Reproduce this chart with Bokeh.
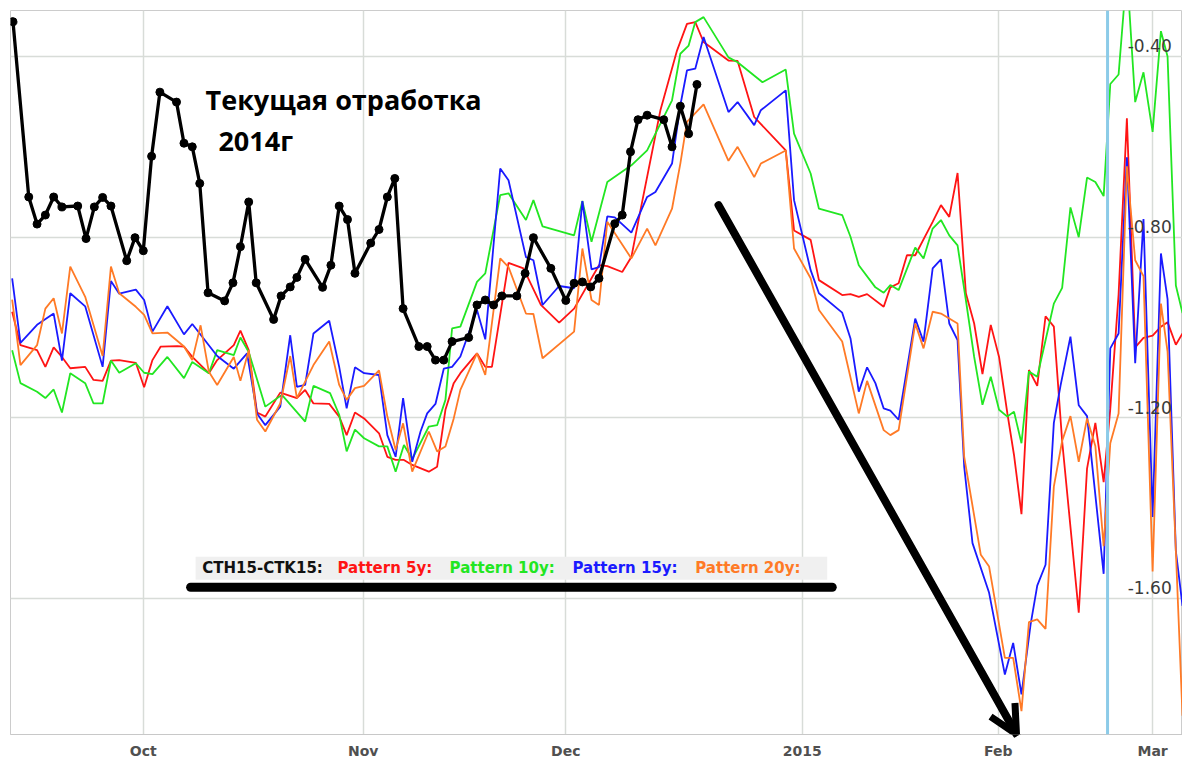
from bokeh.plotting import figure
from bokeh.models import Range1d, FixedTicker, Label, Arrow, OpenHead, Span, BoxAnnotation
from bokeh.core.properties import value
from bokeh.embed import file_html
from bokeh.resources import INLINE

# ---- axis definitions (x = session index) ----
month_pos = [16.0, 42.5, 66.9, 95.4, 119.0, 137.6]
month_labels = ["Oct", "Nov", "Dec", "2015", "Feb", "Mar"]
ytick_vals = [-0.40, -0.80, -1.20, -1.60]
ytick_labels = ["-0.40", "-0.80", "-1.20", "-1.60"]

# ---- current 2014 spread CTH15-CTK15 (black) ----
cur_x = [0.3, 2.2, 3.2, 4.2, 5.2, 6.2, 8.1, 9.1, 10.1, 11.1, 12.1, 14.0, 15.0, 16.0, 17.0, 18.0,
         20.0, 20.9, 21.9, 22.8, 23.8, 25.8, 26.8, 27.7, 28.7, 29.6, 31.7, 32.6, 33.7, 34.5, 35.5,
         37.6, 38.6, 39.6, 40.6, 41.5, 43.4, 44.4, 45.4, 46.3, 47.3, 49.2, 50.2, 51.2, 52.2, 53.2,
         55.2, 56.2, 57.2, 58.2, 59.2, 61.0, 62.0, 63.0, 65.1, 66.9, 67.9, 68.9, 69.9, 70.9,
         72.8, 73.7, 74.7, 75.6, 76.7, 78.7, 79.7, 80.7, 81.7, 82.7]
cur_y = [-0.323, -0.711, -0.771, -0.751, -0.711, -0.733, -0.731, -0.803, -0.733, -0.712, -0.731,
         -0.852, -0.801, -0.830, -0.621, -0.479, -0.501, -0.592, -0.600, -0.681, -0.923, -0.941,
         -0.901, -0.821, -0.722, -0.901, -0.982, -0.930, -0.910, -0.889, -0.849, -0.911, -0.862,
         -0.731, -0.761, -0.880, -0.813, -0.783, -0.711, -0.670, -0.958, -1.042, -1.042, -1.072,
         -1.072, -1.031, -1.022, -0.950, -0.939, -0.950, -0.930, -0.930, -0.880, -0.801, -0.869,
         -0.940, -0.902, -0.899, -0.910, -0.891, -0.770, -0.751, -0.611, -0.540, -0.530, -0.540,
         -0.600, -0.510, -0.571, -0.462]

# ---- Pattern 5y (red) ----
p5_x = [0.2, 1.2, 3.2, 4.2, 5.2, 6.2, 7.2, 9.0, 10.0, 11.1, 12.1, 13.1, 15.1, 16.1, 17.1, 18.1,
        20.1, 20.9, 21.9, 23.9, 24.9, 26.9, 27.7, 28.7, 29.7, 30.7, 32.5, 34.5, 35.5, 36.5, 38.4,
        39.6, 40.5, 41.5, 42.6, 44.4, 45.4, 46.4, 47.4, 48.4, 50.4, 51.4, 52.4, 53.4, 54.2, 56.2,
        57.2, 58.0, 60.0, 61.8, 63.9, 66.1, 67.9, 70.9, 71.9, 73.7, 74.8, 75.9, 78.3, 80.3, 81.5,
        82.5, 83.5, 86.5, 87.6, 89.6, 93.4, 94.4, 96.4, 97.4, 100.2, 101.2, 102.2, 103.2, 105.2,
        106.0, 107.0, 108.0, 109.0, 111.1, 112.1, 113.1, 114.1, 115.1, 116.1, 117.1, 118.1, 119.1,
        120.1, 120.9, 121.8, 122.7, 123.7, 124.7, 125.7, 126.7, 128.7, 129.7, 130.7, 131.7, 132.5,
        133.5, 134.5, 135.5, 136.5, 137.6, 138.6, 139.4, 140.4, 141.2]
p5_y = [-0.965, -1.039, -1.050, -1.087, -1.044, -1.065, -1.090, -1.087, -1.116, -1.118, -1.073,
        -1.072, -1.078, -1.132, -1.072, -1.042, -1.041, -1.042, -1.065, -1.101, -1.072, -1.039,
        -1.007, -1.050, -1.188, -1.197, -1.144, -1.156, -1.138, -1.168, -1.169, -1.197, -1.238,
        -1.188, -1.201, -1.234, -1.286, -1.293, -1.293, -1.304, -1.319, -1.308, -1.182, -1.123,
        -1.101, -1.057, -1.087, -1.087, -0.857, -0.869, -0.950, -0.989, -0.958, -0.862, -0.864,
        -0.877, -0.844, -0.740, -0.519, -0.387, -0.328, -0.324, -0.368, -0.409, -0.410, -0.534,
        -0.608, -0.785, -0.806, -0.895, -0.928, -0.926, -0.932, -0.926, -0.954, -0.911, -0.902,
        -0.840, -0.840, -0.766, -0.729, -0.755, -0.658, -0.924, -0.991, -1.103, -0.994, -1.065,
        -1.190, -1.282, -1.413, -1.094, -1.129, -0.975, -0.998, -1.251, -1.631, -1.312, -1.211,
        -1.342, -1.180, -0.927, -0.537, -1.044, -1.023, -1.018, -0.998, -0.988, -1.038, -1.013]

# ---- Pattern 10y (green) ----
p10_x = [0.2, 1.2, 3.2, 4.2, 5.2, 6.2, 7.2, 9.0, 10.0, 11.1, 12.1, 13.1, 15.1, 16.1, 17.1, 18.9,
         20.9, 21.9, 23.9, 24.9, 26.9, 27.7, 28.7, 30.7, 32.7, 35.5, 36.5, 38.5, 39.6, 40.5, 41.5,
         42.6, 44.4, 45.4, 46.4, 47.4, 48.4, 50.4, 51.4, 52.4, 53.2, 54.2, 56.2, 57.2, 59.0, 60.0,
         62.1, 63.0, 64.1, 67.9, 68.9, 70.0, 71.9, 74.8, 76.7, 79.7, 80.7, 81.7, 82.5, 83.5, 86.5,
         87.6, 90.6, 93.4, 94.4, 96.4, 97.4, 100.2, 101.2, 102.2, 104.2, 105.2, 106.0, 107.0,
         109.0, 110.0, 111.1, 112.1, 113.1, 114.1, 115.1, 116.1, 117.1, 118.1, 119.1, 120.1, 120.9,
         121.8, 122.7, 123.7, 124.7, 125.7, 126.7, 127.7, 128.7, 129.7, 130.7, 131.7, 132.5, 133.5,
         134.5, 135.5, 136.5, 137.6, 138.6, 139.4, 140.4, 141.2]
p10_y = [-1.050, -1.123, -1.142, -1.156, -1.137, -1.188, -1.101, -1.123, -1.168, -1.168, -1.073,
         -1.100, -1.079, -1.100, -1.103, -1.065, -1.112, -1.076, -1.101, -1.050, -1.061, -1.022,
         -1.054, -1.175, -1.149, -1.208, -1.129, -1.145, -1.193, -1.274, -1.226, -1.245, -1.263,
         -1.263, -1.319, -1.260, -1.291, -1.219, -1.216, -1.160, -1.002, -0.998, -0.899, -0.880,
         -0.707, -0.703, -0.762, -0.718, -0.776, -0.796, -0.720, -0.810, -0.678, -0.641, -0.608,
         -0.497, -0.394, -0.376, -0.324, -0.313, -0.402, -0.413, -0.457, -0.429, -0.571, -0.659,
         -0.737, -0.751, -0.799, -0.862, -0.911, -0.923, -0.906, -0.917, -0.823, -0.847, -0.781,
         -0.762, -0.796, -0.818, -0.939, -1.065, -1.171, -1.109, -1.182, -1.197, -1.186, -1.256,
         -1.097, -1.109, -1.028, -0.947, -0.912, -0.734, -0.800, -0.668, -0.678, -0.709, -0.461,
         -0.440, -0.210, -0.501, -0.435, -0.567, -0.344, -0.400, -0.907, -0.968]

# ---- Pattern 15y (blue) ----
p15_x = [0.2, 1.2, 3.2, 5.2, 6.2, 7.2, 9.0, 11.1, 12.1, 13.1, 15.1, 16.1, 17.1, 18.9, 20.9, 21.9,
         24.9, 26.9, 28.5, 29.7, 30.7, 32.5, 33.7, 34.5, 35.5, 36.5, 38.4, 39.6, 40.5, 41.5, 42.6,
         44.4, 45.4, 46.4, 47.3, 48.4, 49.4, 50.2, 51.2, 52.2, 53.2, 54.2, 56.2, 57.2, 59.0, 60.0,
         62.1, 63.0, 64.1, 66.1, 67.9, 68.9, 70.0, 70.9, 71.9, 72.8, 74.8, 76.7, 77.7, 79.7, 80.7,
         81.5, 82.5, 83.5, 86.5, 87.6, 89.6, 90.4, 93.4, 94.4, 96.4, 97.4, 100.2, 101.2, 102.2,
         103.2, 104.2, 105.2, 106.0, 107.0, 109.0, 110.0, 111.1, 112.1, 113.1, 114.1, 114.9, 115.9,
         117.9, 119.8, 120.8, 121.8, 122.9, 123.7, 124.7, 125.7, 126.5, 127.7, 128.7, 129.7, 131.7,
         132.5, 133.5, 134.5, 135.5, 136.5, 137.6, 138.6, 139.4, 140.4, 141.2]
p15_y = [-0.891, -1.034, -0.994, -0.969, -1.073, -0.924, -0.953, -1.087, -0.897, -0.925, -0.916,
         -0.939, -1.009, -0.953, -1.015, -0.992, -1.063, -1.091, -1.057, -1.190, -1.216, -1.175,
         -1.017, -1.131, -1.127, -1.013, -0.985, -1.087, -1.179, -1.088, -1.101, -1.105, -1.238,
         -1.286, -1.156, -1.297, -1.230, -1.190, -1.169, -1.091, -1.087, -1.064, -0.961, -1.026,
         -0.648, -0.674, -0.844, -0.851, -0.950, -0.908, -0.913, -0.720, -0.871, -0.866, -0.754,
         -0.756, -0.790, -0.711, -0.700, -0.637, -0.508, -0.431, -0.427, -0.357, -0.523, -0.501,
         -0.552, -0.519, -0.475, -0.718, -0.873, -0.924, -0.967, -1.024, -1.142, -1.088, -1.123,
         -1.179, -1.184, -1.204, -0.980, -1.031, -0.869, -0.849, -0.991, -1.028, -1.308, -1.477,
         -1.587, -1.768, -1.698, -1.812, -1.657, -1.571, -1.525, -1.211, -1.129, -1.020, -1.172,
         -1.196, -1.545, -1.046, -1.013, -0.623, -1.079, -0.760, -1.419, -0.836, -0.937, -1.495,
         -1.616]

# ---- Pattern 20y (orange) ----
p20_x = [0.2, 1.2, 3.2, 4.2, 5.2, 6.2, 7.2, 9.0, 11.1, 12.1, 13.1, 15.1, 16.1, 17.1, 18.9, 20.9,
         21.9, 22.9, 23.9, 24.9, 26.9, 27.7, 28.7, 29.7, 30.7, 32.5, 33.7, 34.5, 36.5, 38.4, 39.6,
         40.5, 41.5, 42.6, 44.4, 45.4, 46.4, 47.3, 48.4, 50.4, 51.4, 52.4, 53.4, 54.2, 56.2, 57.2,
         59.0, 60.0, 62.1, 63.0, 64.1, 67.9, 68.9, 70.0, 70.9, 71.9, 74.8, 76.7, 77.7, 79.7, 80.7,
         81.5, 83.5, 86.5, 87.6, 89.6, 90.4, 93.4, 94.4, 96.4, 97.4, 100.2, 102.2, 103.2, 105.2,
         106.0, 107.0, 109.0, 110.0, 111.1, 112.1, 114.1, 114.9, 116.9, 117.9, 119.8, 120.8, 121.8,
         122.7, 123.7, 124.7, 125.7, 126.7, 127.7, 128.7, 129.7, 130.7, 131.7, 132.5, 133.5, 134.5,
         135.5, 136.5, 137.6, 138.6, 139.4, 140.4, 141.2]
p20_y = [-0.938, -1.083, -1.039, -0.958, -0.935, -1.013, -0.865, -0.932, -1.063, -0.865, -0.924,
         -0.954, -0.972, -1.013, -1.011, -1.042, -1.072, -0.995, -1.098, -1.127, -1.065, -1.118,
         -1.050, -1.204, -1.230, -1.168, -1.063, -1.156, -1.083, -1.031, -1.127, -1.160, -1.134,
         -1.129, -1.095, -1.197, -1.271, -1.212, -1.319, -1.230, -1.274, -1.263, -1.201, -1.138,
         -1.057, -1.105, -0.847, -0.866, -0.969, -0.970, -1.068, -1.009, -0.825, -0.939, -0.950,
         -0.766, -0.847, -0.781, -0.818, -0.737, -0.637, -0.545, -0.506, -0.631, -0.600, -0.667,
         -0.637, -0.608, -0.825, -0.891, -0.961, -1.031, -1.190, -1.118, -1.227, -1.238, -1.227,
         -0.991, -1.046, -0.965, -0.969, -0.991, -1.286, -1.503, -1.529, -1.731, -1.731, -1.849,
         -1.652, -1.646, -1.667, -1.352, -1.251, -1.196, -1.297, -1.201, -1.262, -1.484, -1.256,
         -1.190, -0.643, -0.851, -0.886, -1.540, -0.947, -1.053, -1.495, -1.859]

series = [
    ("Pattern 5y:", p5_x, p5_y, "#ff1414"),
    ("Pattern 10y:", p10_x, p10_y, "#22e622"),
    ("Pattern 15y:", p15_x, p15_y, "#1a1aff"),
    ("Pattern 20y:", p20_x, p20_y, "#ff7a26"),
]

p = figure(width=1182, height=761, x_range=Range1d(0, 141.2), y_range=Range1d(-1.9006, -0.2983),
           output_backend="svg", toolbar_location=None, y_axis_location=None,
           min_border_left=10, min_border_right=0, min_border_top=10, min_border_bottom=26)
p.outline_line_color = "#cccccc"
p.background_fill_color = "white"
p.border_fill_color = "white"

p.xaxis.ticker = FixedTicker(ticks=month_pos)
p.xaxis.major_label_overrides = {pos: lab for pos, lab in zip(month_pos, month_labels)}
p.xaxis.major_tick_line_color = None
p.xaxis.major_tick_out = 0
p.xaxis.major_tick_in = 0
p.xaxis.minor_tick_line_color = None
p.xaxis.minor_tick_out = 0
p.xaxis.axis_line_color = "#c8c8c8"
p.xaxis.major_label_text_font = "DejaVu Sans"
p.xaxis.major_label_text_font_style = "bold"
p.xaxis.major_label_text_font_size = "14px"
p.xaxis.major_label_text_color = "#505050"
p.xaxis.major_label_standoff = 8

p.xgrid.ticker = FixedTicker(ticks=month_pos)
p.ygrid.ticker = FixedTicker(ticks=ytick_vals)
for g in (p.xgrid, p.ygrid):
    g.grid_line_color = "#d8dcd8"
    g.grid_line_width = 1.5

p.add_layout(Span(location=132.17, dimension="height", line_color="#8ccbe8", line_width=3))

for name, xs, ys, col in series:
    p.line(xs, ys, line_color=col, line_width=1.8)

p.line(cur_x, cur_y, line_color="black", line_width=3.3)
p.scatter(cur_x, cur_y, size=8, fill_color="black", line_color="black")

# y tick labels drawn inside the plot, just above each gridline
p.text(x=[134.6] * len(ytick_vals), y=[v + 0.024 for v in ytick_vals], text=ytick_labels,
       text_font=value("DejaVu Sans"), text_font_size="17px", text_color="#3a3a3a",
       text_align="left", text_baseline="middle")

# annotation text
p.add_layout(Label(x=23.5, y=-0.4947, text="Текущая отработка", text_font="Open Sans",
                   text_font_style="bold", text_font_size="27px", text_color="black",
                   text_baseline="alphabetic"))
p.add_layout(Label(x=25.05, y=-0.586, text="2014г", text_font="Open Sans",
                   text_font_style="bold", text_font_size="27px", text_color="black",
                   text_baseline="alphabetic"))

# legend strip
p.add_layout(BoxAnnotation(left=22.3, right=98.4, top=-1.507, bottom=-1.558,
                           fill_color="#f0f0f0", fill_alpha=1.0, line_color=None))
legend_items = [("CTH15-CTK15:", 23.1, "#111111")] + \
    [(s[0], xpos, s[3]) for s, xpos in zip(series, [39.4, 52.9, 67.7, 82.5])]
for txt, xpos, col in legend_items:
    p.add_layout(Label(x=xpos, y=-1.5315, text=txt, text_font="DejaVu Sans",
                       text_font_style="bold", text_font_size="15px", text_color=col,
                       text_baseline="alphabetic"))

# hand-drawn underline and arrow
p.add_layout(Arrow(end=None, x_start=21.7, y_start=-1.5746, x_end=99.0, y_end=-1.5746,
                   line_width=9, line_color="black", line_cap="round"))
p.add_layout(Arrow(end=OpenHead(size=28, line_width=7, line_color="black"),
                   x_start=85.3, y_start=-0.729, x_end=121.2, y_end=-1.90,
                   line_width=8, line_color="black", line_cap="round"))

open("out.html", "w").write(file_html(p, INLINE))
